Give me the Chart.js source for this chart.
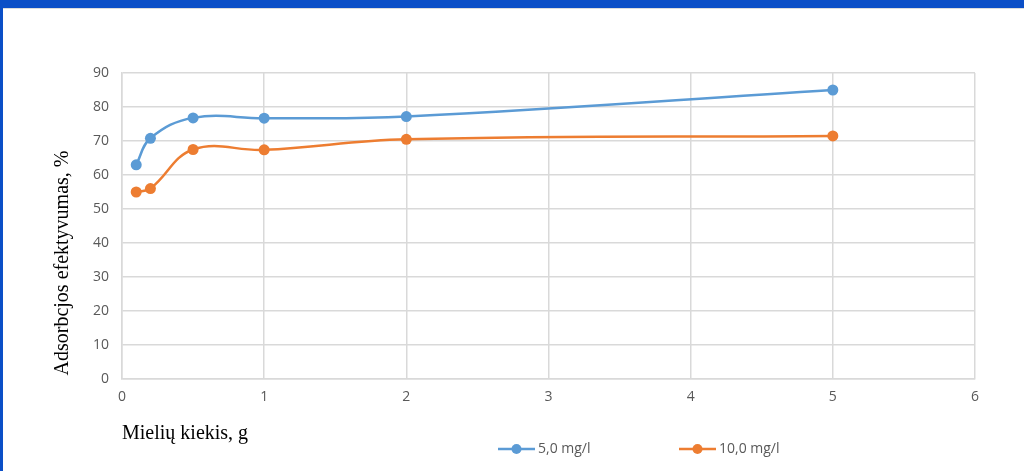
<!DOCTYPE html>
<html>
<head>
<meta charset="utf-8">
<script src="https://cdn.jsdelivr.net/npm/chart.js@4"></script>
<style>
  html, body { margin: 0; padding: 0; }
  body { width: 1024px; height: 471px; background: #0b4fc7; overflow: hidden; position: relative; }
  .panel { position: absolute; left: 3px; top: 8px; right: 0; bottom: 0; background: #fff; border-top: 1px solid #dcdcdc; }
  #chart { position: absolute; left: 0; top: 0; }
</style>
</head>
<body>
<div class="panel"></div>
<canvas id="chart" width="1024" height="471"></canvas>
<script>
// Mielių kiekis, g
const kiekis = [0.1, 0.2, 0.5, 1, 2, 5];
// adsorbcijos efektyvumas, %
const efekt5 = [63, 70.8, 76.8, 76.7, 77.2, 85];
const efekt10 = [55, 56, 67.5, 67.4, 70.5, 71.5];
const serijos = ['5,0 mg/l', '10,0 mg/l'];
const spalvos = ['#5b9bd5', '#ed7d31'];

const tickColor = '#595959';
const gridColor = '#d9d9d9';

// tekstai ir legenda piešiami ranka, kad sutaptų su originalu
const titlesPlugin = {
  id: 'titles',
  afterDraw(chart) {
    const ctx = chart.ctx;
    ctx.save();
    ctx.fillStyle = '#000';
    ctx.font = '20px "Liberation Serif"';
    ctx.textBaseline = 'middle';
    ctx.textAlign = 'center';
    ctx.translate(63, 263);
    ctx.rotate(-Math.PI / 2);
    ctx.fillText('Adsorbcjos efektyvumas, %', 0, 0);
    ctx.restore();

    ctx.save();
    ctx.fillStyle = '#000';
    ctx.font = '20px "Liberation Serif"';
    ctx.textBaseline = 'alphabetic';
    ctx.textAlign = 'left';
    ctx.fillText('Mielių kiekis, g', 122, 439);

    // legenda
    const items = [[498, serijos[0], spalvos[0]], [679, serijos[1], spalvos[1]]];
    ctx.font = '14px "Open Sans"';
    ctx.textBaseline = 'middle';
    items.forEach(([x, txt, col]) => {
      ctx.strokeStyle = col;
      ctx.lineWidth = 2.5;
      ctx.beginPath();
      ctx.moveTo(x, 449);
      ctx.lineTo(x + 37, 449);
      ctx.stroke();
      ctx.fillStyle = col;
      ctx.beginPath();
      ctx.arc(x + 18.5, 449, 5, 0, Math.PI * 2);
      ctx.fill();
      ctx.fillStyle = tickColor;
      ctx.fillText(txt, x + 40, 449);
    });
    ctx.restore();
  }
};

const ds = (label, vals, col) => ({
  label,
  data: kiekis.map((x, i) => ({ x, y: vals[i] })),
  borderColor: col,
  backgroundColor: col,
  borderWidth: 2.5,
  pointRadius: 5.5,
  pointBorderWidth: 0,
  tension: 0.4
});

new Chart(document.getElementById('chart'), {
  type: 'line',
  data: {
    datasets: [ds(serijos[0], efekt5, spalvos[0]), ds(serijos[1], efekt10, spalvos[1])]
  },
  options: {
    responsive: false,
    animation: false,
    layout: { padding: { left: 0, right: 49, top: 73, bottom: 0 } },
    plugins: { legend: { display: false }, tooltip: { enabled: false } },
    scales: {
      x: {
        type: 'linear',
        min: 0, max: 6,
        ticks: { stepSize: 1, color: tickColor, font: { family: 'Open Sans', size: 14 }, padding: 10 },
        grid: { color: gridColor, drawTicks: false, lineWidth: 1.5 },
        border: { color: gridColor, width: 1.5 },
        afterFit(s) { s.height = 92; }
      },
      y: {
        min: 0, max: 90,
        ticks: { stepSize: 10, color: tickColor, font: { family: 'Open Sans', size: 14 }, padding: 13 },
        grid: { color: gridColor, drawTicks: false, lineWidth: 1.5 },
        border: { color: gridColor, width: 1.5 },
        afterFit(s) { s.width = 122; }
      }
    }
  },
  plugins: [titlesPlugin]
});
</script>
</body>
</html>
